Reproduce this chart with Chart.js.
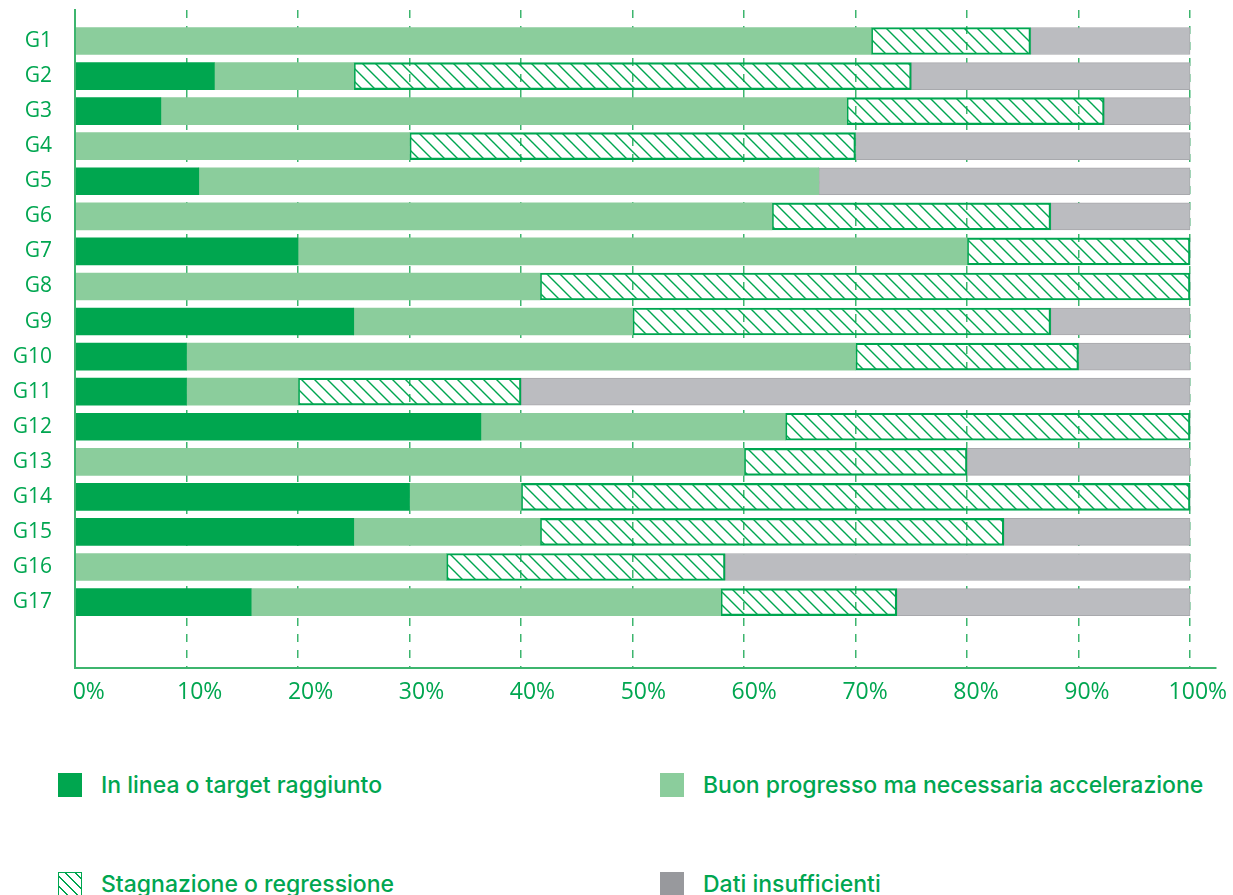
<!DOCTYPE html>
<html lang="it">
<head>
<meta charset="utf-8">
<title>Stato di avanzamento per Goal</title>
<script src="https://cdn.jsdelivr.net/npm/chart.js@4.4.1/dist/chart.umd.min.js"></script>
<style>
  html, body { margin: 0; padding: 0; background: #fff; overflow: hidden; }
  .wrap { position: relative; width: 1233px; height: 895px; }
  .chart-box { position: absolute; left: 0; top: 0; width: 1233px; height: 720px; }
  #legend {
    position: absolute; left: 58px; top: 773px;
    display: grid; grid-template-columns: 602px auto; row-gap: 75px;
    font-family: Inter, "Noto Sans", sans-serif; font-weight: 500; font-size: 23px;
    color: #00a650;
  }
  .legend-item { display: flex; align-items: center; height: 24px; white-space: nowrap; }
  .legend-item .sw { width: 24px; height: 24px; margin-right: 19px; box-sizing: border-box; flex: none; }
  .sw.hatch {
    border: 1.5px solid #00a650;
    background: repeating-linear-gradient(45deg, transparent 0, transparent 5.5px, #00a650 5.5px, #00a650 7px);
  }
</style>
</head>
<body>
<div class="wrap">
  <div class="chart-box"><canvas id="chart"></canvas></div>
  <div id="legend"></div>
</div>
<script>
const categories = ['G1', 'G2', 'G3', 'G4', 'G5', 'G6', 'G7', 'G8', 'G9', 'G10',
  'G11', 'G12', 'G13', 'G14', 'G15', 'G16', 'G17'];

// quota di target per stato (%)
const inLinea = [0, 12.5, 7.7, 0, 11.1, 0, 20, 0, 25, 10, 10, 36.4, 0, 30, 25, 0, 15.8];
const buonProgresso = [71.4, 12.5, 61.5, 30, 55.6, 62.5, 60, 41.7, 25, 60, 10, 27.3, 60, 10, 16.7, 33.3, 42.1];
const stagnazione = [14.3, 50, 23.1, 40, 0, 25, 20, 58.3, 37.5, 20, 20, 36.3, 20, 60, 41.6, 25, 15.8];
const datiInsufficienti = [14.3, 25, 7.7, 30, 33.3, 12.5, 0, 0, 12.5, 10, 60, 0, 20, 0, 16.7, 41.7, 26.3];

const xTicks = [0, 10, 20, 30, 40, 50, 60, 70, 80, 90, 100];

const GREEN = '#00a650';
const AXIS = '#3db56e';

function hatchPattern() {
  const s = 13;
  const c = document.createElement('canvas');
  c.width = s; c.height = s;
  const g = c.getContext('2d');
  g.strokeStyle = GREEN;
  g.lineWidth = 1.4;
  g.beginPath();
  g.moveTo(-1, -1); g.lineTo(s + 1, s + 1);
  g.moveTo(-1, s - 1); g.lineTo(1, s + 1);
  g.moveTo(s - 1, -1); g.lineTo(s + 1, 1);
  g.stroke();
  return g.createPattern(c, 'repeat');
}

const toPoints = arr => arr.map((v, i) => ({ x: v, y: i }));
const widthIfValue = w => ctx => (ctx.raw && ctx.raw.x ? w : 0);

// the scales must not push the plot area in with label padding
const noPadding = s => {
  s.paddingTop = 0; s.paddingBottom = 0;
  s.paddingLeft = 0; s.paddingRight = 0;
};

const datasets = [
  {
    label: 'In linea o target raggiunto',
    data: toPoints(inLinea),
    backgroundColor: '#00a64f',
    legendColor: '#00a64f',
    borderWidth: 0
  },
  {
    label: 'Buon progresso ma necessaria accelerazione',
    data: toPoints(buonProgresso),
    backgroundColor: '#8bcd9c',
    legendColor: '#8bcd9c',
    borderWidth: 0
  },
  {
    label: 'Stagnazione o regressione',
    data: toPoints(stagnazione),
    backgroundColor: hatchPattern(),
    legendHatch: true,
    borderColor: GREEN,
    borderWidth: widthIfValue(1.5),
    borderSkipped: false
  },
  {
    label: 'Dati insufficienti',
    data: toPoints(datiInsufficienti),
    backgroundColor: '#bbbcc0',
    legendColor: '#98999d',
    borderColor: '#a8a9ad',
    borderWidth: widthIfValue(1),
    borderSkipped: false
  }
];

const chart = new Chart(document.getElementById('chart'), {
  type: 'bar',
  data: { datasets },
  options: {
    indexAxis: 'y',
    responsive: true,
    maintainAspectRatio: false,
    animation: false,
    barThickness: 27,
    layout: { padding: { top: 10, right: 17, bottom: 0, left: 0 } },
    plugins: { legend: { display: false }, tooltip: { enabled: false } },
    scales: {
      y: {
        type: 'linear',
        reverse: true,
        stacked: true,
        offset: false,
        min: -0.884,
        max: 17.88,
        grid: { display: false, drawTicks: false },
        border: { display: true, color: AXIS, width: 2, z: 1 },
        ticks: {
          stepSize: 1,
          includeBounds: false,
          padding: 23,
          color: GREEN,
          font: { family: 'Open Sans', size: 21 },
          callback: v => categories[v] ?? ''
        },
        afterFit: s => { s.width = 75; noPadding(s); }
      },
      x: {
        type: 'linear',
        stacked: true,
        min: 0,
        max: 102.33,
        grid: { color: AXIS, lineWidth: 1.5, drawTicks: false },
        border: { display: true, color: AXIS, width: 2, dash: [8, 8] },
        ticks: { display: false, stepSize: 10, includeBounds: false },
        afterFit: s => { s.height = 0; noPadding(s); }
      },
      // etichette percentuali dell'asse orizzontale
      xl: {
        type: 'linear',
        position: 'bottom',
        min: -1.244,
        max: 101.64,
        grid: { display: false, drawTicks: false },
        border: { display: false },
        afterBuildTicks: s => { s.ticks = xTicks.map(v => ({ value: v })); },
        ticks: {
          padding: 11,
          color: GREEN,
          font: { family: 'Open Sans', size: 23 },
          callback: v => v + '%'
        },
        afterFit: s => { s.height = 52; noPadding(s); }
      }
    }
  }
});

// legenda HTML a due colonne
const legend = document.getElementById('legend');
chart.data.datasets.forEach(ds => {
  const item = document.createElement('div');
  item.className = 'legend-item';
  const sw = document.createElement('span');
  sw.className = 'sw' + (ds.legendHatch ? ' hatch' : '');
  if (!ds.legendHatch) sw.style.background = ds.legendColor;
  const txt = document.createElement('span');
  txt.textContent = ds.label;
  item.appendChild(sw);
  item.appendChild(txt);
  legend.appendChild(item);
});
</script>
</body>
</html>
